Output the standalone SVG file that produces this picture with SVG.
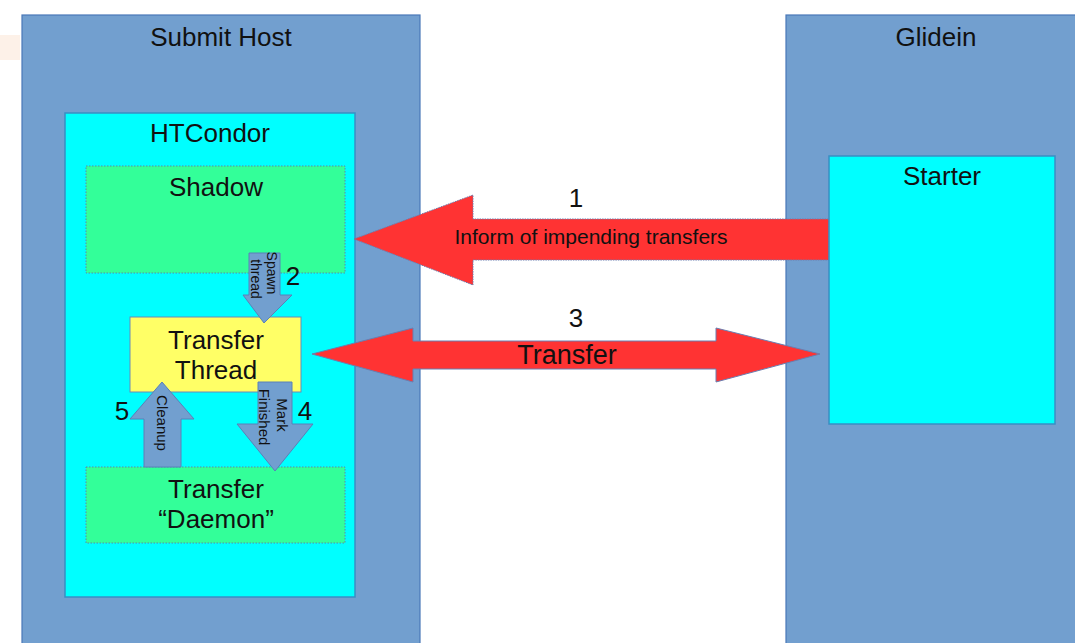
<svg xmlns="http://www.w3.org/2000/svg" width="1075" height="643" viewBox="0 0 1075 643">
<style>
text{font-family:"Liberation Sans",Arial,sans-serif;fill:#111;}
.host{fill:#729fcf;stroke:#4a78b8;stroke-width:1.2;}
.cyan{fill:#00ffff;stroke:#3a8ec4;stroke-width:1.5;}
.green{fill:#33ff99;stroke:#5a8aa8;stroke-width:1;stroke-dasharray:1.5 1.5;}
.yellow{fill:#ffff66;stroke:#6a8ab8;stroke-width:1;}
.red{fill:#ff3333;stroke:#6a7eb0;stroke-width:1;}
.blue{fill:#729fcf;stroke:#5a80b8;stroke-width:1;}
.big{font-size:26px;text-anchor:middle;}
.mid{font-size:21px;text-anchor:middle;}
.sm{font-size:15px;text-anchor:middle;dominant-baseline:central;}
</style>
<rect width="1075" height="643" fill="#ffffff"/>
<rect x="0" y="35" width="20" height="25" fill="#fdf1e8"/>
<g id="submit-host">
<rect class="host" x="22" y="15" width="398" height="640"/>
<text class="big" x="221" y="46">Submit Host</text>
</g>
<g id="glidein">
<rect class="host" x="786" y="15" width="300" height="640"/>
<text class="big" x="936" y="46">Glidein</text>
</g>
<g id="htcondor">
<rect class="cyan" x="65" y="113" width="290" height="484"/>
<text class="big" x="210" y="142">HTCondor</text>
</g>
<g id="shadow">
<rect class="green" x="86" y="166" width="259" height="107"/>
<text class="big" x="216" y="196">Shadow</text>
</g>
<g id="transfer-thread">
<rect class="yellow" x="130" y="317" width="171" height="75"/>
<text class="big" x="216" y="349">Transfer</text>
<text class="big" x="216" y="379">Thread</text>
</g>
<g id="transfer-daemon">
<rect class="green" x="86" y="467" width="259" height="76"/>
<text class="big" x="216" y="498">Transfer</text>
<text class="big" x="216" y="528">“Daemon”</text>
</g>
<g id="connectors">
<g id="arrow-spawn">
<polygon class="blue" points="249,253 280,253 280,295 292,295 264,323 243,295 249,295"/>
<text class="sm" style="font-size:14px" transform="translate(272,273) rotate(90)">Spawn</text>
<text class="sm" style="font-size:14px" transform="translate(256,279) rotate(90)">thread</text>
<text class="big" x="293" y="285">2</text>
</g>
<g id="arrow-cleanup">
<polygon class="blue" points="144,467 181,467 181,419 194,419 162,382 130,419 144,419"/>
<text class="sm" transform="translate(162,423) rotate(90)">Cleanup</text>
<text class="big" x="122" y="420">5</text>
</g>
<g id="arrow-finished">
<polygon class="blue" points="258,382 292,382 292,424 313,424 275,471 237,424 258,424"/>
<text class="sm" transform="translate(282,415) rotate(90)">Mark</text>
<text class="sm" transform="translate(264,417) rotate(90)">Finished</text>
<text class="big" x="305" y="420">4</text>
</g>
<g id="arrow-inform">
<polygon class="red" stroke-dasharray="1.5 1" points="354,239 473,195 473,219 829,219 829,260 473,260 473,285"/>
<text class="big" x="576" y="207">1</text>
<text class="mid" x="591" y="244">Inform of impending transfers</text>
</g>
<g id="arrow-transfer">
<polygon class="red" points="312,354 413,328 413,341 716,341 716,328 820,354 716,382 716,369 413,369 413,382"/>
<text class="big" x="576" y="327">3</text>
<text class="big" x="567" y="364" style="font-size:27px">Transfer</text>
</g>
</g>
<g id="starter">
<rect class="cyan" x="829" y="156" width="226" height="268"/>
<text class="big" x="942" y="185">Starter</text>
</g>
</svg>
